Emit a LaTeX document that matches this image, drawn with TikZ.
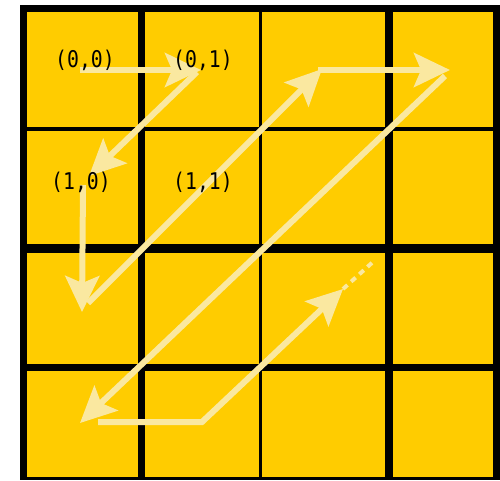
\documentclass[tikz,border=0pt]{standalone}
\usepackage{fontspec}
\setmonofont[FakeStretch=0.86]{DejaVu Sans Mono}
\usetikzlibrary{arrows.meta}
\definecolor{cellyellow}{RGB}{255,204,0}
\definecolor{pathcream}{RGB}{250,232,160}

\begin{document}
\begin{tikzpicture}[
    x=1pt, y=-1pt,
    cell/.style={fill=cellyellow},
    celltext/.style={font=\ttfamily\fontsize{23}{23}\selectfont, text=black, inner sep=0pt},
    arrow/.style={draw=pathcream, line width=6pt, -{Stealth[length=36pt, width=34pt, inset=7pt]}},
    trail/.style={draw=pathcream, line width=4pt, dash pattern=on 6pt off 5pt}
]
\useasboundingbox (0,0) rectangle (500,480);
\fill[white] (0,0) rectangle (500,480);

% Grid
\fill[black] (20,5) rectangle (500,480);
\foreach \xa/\xb in {27/138.3, 145/259.3, 262/385, 393.3/493.3}
  \foreach \ya/\yb in {11.7/126.7, 131/244, 253.3/364, 371/477}
    \fill[cell] (\xa,\ya) rectangle (\xb,\yb);

% Scan points
\coordinate (p00) at (80,70);
\coordinate (p01) at (201,70);
\coordinate (q01) at (197,72);
\coordinate (p10) at (89,176);
\coordinate (q10) at (83,185);
\coordinate (p20) at (82,312);
\coordinate (q20) at (88,303);
\coordinate (p02) at (322,69);
\coordinate (q02) at (318,70);
\coordinate (p03) at (450,70);
\coordinate (q03) at (445,76);
\coordinate (p30) at (80,423);
\coordinate (q30) at (98,422);
\coordinate (p31) at (202,422);
\coordinate (p22) at (343,289);
\coordinate (p13) at (374,261);

% Zigzag scan
\draw[arrow] (p00) -- (p01);
\draw[arrow] (q01) -- (p10);
\draw[arrow] (q10) -- (p20);
\draw[arrow] (q20) -- (p02);
\draw[arrow] (q02) -- (p03);
\draw[arrow] (q03) -- (p30);
\draw[arrow] (q30) -- (p31) -- (p22);
\draw[trail] (p22) -- (p13);

% Cell indices
\node[celltext] (c00) at (85,60) {(0,0)};
\node[celltext] (c01) at (203,60) {(0,1)};
\node[celltext] (c10) at (81,182) {(1,0)};
\node[celltext] (c11) at (203,182) {(1,1)};

\end{tikzpicture}
\end{document}
